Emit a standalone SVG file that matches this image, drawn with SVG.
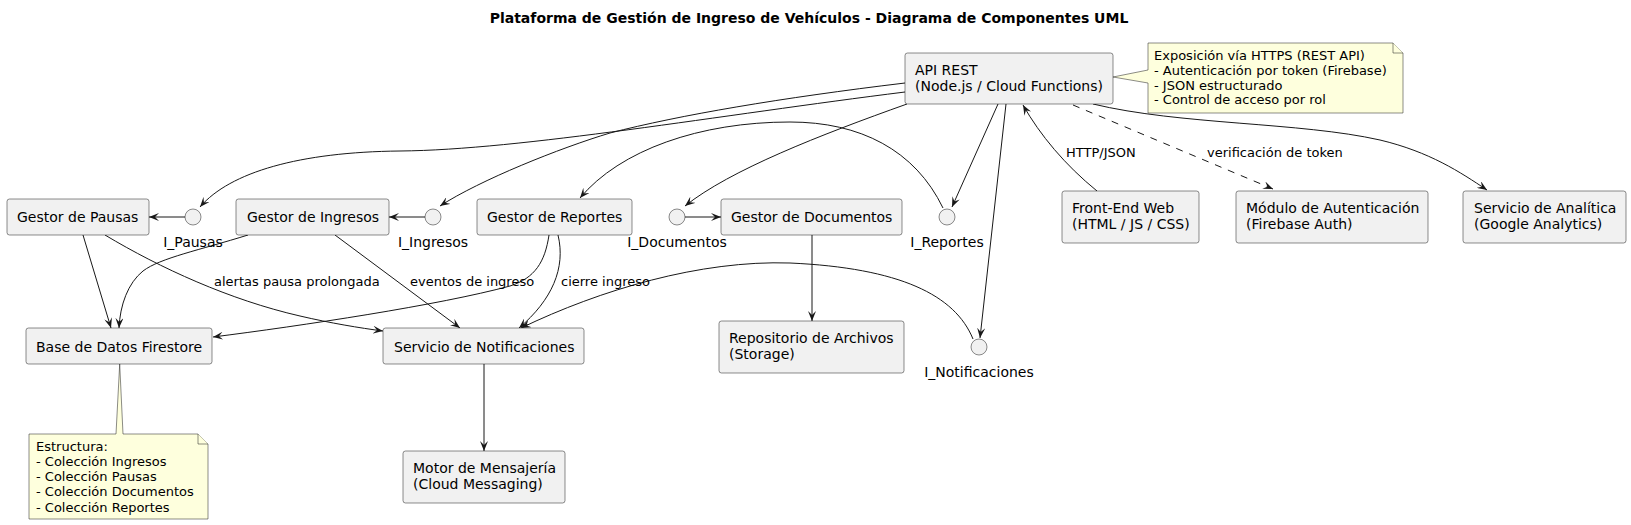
<svg xmlns="http://www.w3.org/2000/svg" width="1631" height="525" viewBox="0 0 1631 525">
<defs>
<style>
.box{fill:#F1F1F1;stroke:#181818;stroke-width:0.5}
.note{fill:#FEFFDD;stroke:#181818;stroke-width:0.5}
.iface{fill:#F1F1F1;stroke:#181818;stroke-width:0.5}
.t{font-family:"DejaVu Sans",sans-serif;font-size:14px;fill:#000}
.s{font-family:"DejaVu Sans",sans-serif;font-size:13px;fill:#000}
.title{font-family:"DejaVu Sans",sans-serif;font-size:14px;font-weight:bold;fill:#000}
.c{fill:none;stroke:#181818;stroke-width:1}
.d{stroke-dasharray:7,7}
</style>
<marker id="ah" viewBox="0 0 10 8" refX="10" refY="4" markerWidth="10" markerHeight="8" markerUnits="userSpaceOnUse" orient="auto">
<path d="M0,0 L10,4 L0,8 L4,4 Z" fill="#181818"/>
</marker>
</defs>
<rect width="1631" height="525" fill="#FFFFFF"/>
<text class="title" x="809" y="23" text-anchor="middle">Plataforma de Gestión de Ingreso de Vehículos - Diagrama de Componentes UML</text>

<g id="connectors">
<path class="c" d="M185,217 L149,217" marker-end="url(#ah)"/>
<path class="c" d="M425,217 L389,217" marker-end="url(#ah)"/>
<path class="c" d="M685,217 L721,217" marker-end="url(#ah)"/>
<path class="c" d="M905,92 C720,115 520,150 400,151 C300,152 230,172 200,207" marker-end="url(#ah)"/>
<path class="c" d="M905,83 C780,98 680,115 610,133 C560,148 480,180 440,206" marker-end="url(#ah)"/>
<path class="c" d="M943,208 C915,150 860,122 790,122 C700,122 620,150 580,198" marker-end="url(#ah)"/>
<path class="c" d="M907,104 C820,135 730,170 685,206" marker-end="url(#ah)"/>
<path class="c" d="M998,104 L952,207" marker-end="url(#ah)"/>
<path class="c" d="M1006,104 L980,338" marker-end="url(#ah)"/>
<path class="c" d="M1097,191 C1065,165 1040,135 1023,105" marker-end="url(#ah)"/>
<path class="c d" d="M1073,105 L1273,189" marker-end="url(#ah)"/>
<path class="c" d="M1093,104 C1180,125 1300,122 1380,140 C1430,152 1460,172 1487,190" marker-end="url(#ah)"/>
<path class="c" d="M83,235 L111,328" marker-end="url(#ah)"/>
<path class="c" d="M248,235 C200,250 160,258 143,271 C128,283 120,305 119,328" marker-end="url(#ah)"/>
<path class="c" d="M105,235 C160,268 230,300 300,316 C330,323 360,328 383,331" marker-end="url(#ah)"/>
<path class="c" d="M335,235 L460,328" marker-end="url(#ah)"/>
<path class="c" d="M549,235 C545,262 535,278 510,286 C440,305 300,326 213,337" marker-end="url(#ah)"/>
<path class="c" d="M558,235 C566,268 552,300 519,328" marker-end="url(#ah)"/>
<path class="c" d="M973,339 C955,295 900,268 790,263 C700,260 600,290 521,328" marker-end="url(#ah)"/>
<path class="c" d="M812,235 L812,321" marker-end="url(#ah)"/>
<path class="c" d="M484,364 L484,451" marker-end="url(#ah)"/>
<text class="s" x="214" y="286">alertas pausa prolongada</text>
<text class="s" x="410" y="286">eventos de ingreso</text>
<text class="s" x="561" y="286">cierre ingreso</text>
<text class="s" x="1066" y="157">HTTP/JSON</text>
<text class="s" x="1207" y="157">verificación de token</text>
</g>

<g id="gestor-pausas"><rect class="box" x="7" y="199" width="142" height="36" rx="2.5"/><text class="t" x="17" y="222">Gestor de Pausas</text></g>
<g id="gestor-ingresos"><rect class="box" x="236" y="199" width="153" height="36" rx="2.5"/><text class="t" x="247" y="222">Gestor de Ingresos</text></g>
<g id="gestor-reportes"><rect class="box" x="477" y="199" width="155" height="36" rx="2.5"/><text class="t" x="487" y="222">Gestor de Reportes</text></g>
<g id="gestor-documentos"><rect class="box" x="721" y="199" width="181" height="36" rx="2.5"/><text class="t" x="731" y="222">Gestor de Documentos</text></g>
<g id="api-rest"><rect class="box" x="905" y="53" width="208" height="51" rx="2.5"/><text class="t" x="915" y="75">API REST</text><text class="t" x="915" y="91.3">(Node.js / Cloud Functions)</text></g>
<g id="front-end"><rect class="box" x="1062" y="191" width="137" height="52" rx="2.5"/><text class="t" x="1072" y="213">Front-End Web</text><text class="t" x="1072" y="229.3">(HTML / JS / CSS)</text></g>
<g id="modulo-auth"><rect class="box" x="1236" y="191" width="192" height="52" rx="2.5"/><text class="t" x="1246" y="213">Módulo de Autenticación</text><text class="t" x="1246" y="229.3">(Firebase Auth)</text></g>
<g id="analitica"><rect class="box" x="1463" y="191" width="163" height="52" rx="2.5"/><text class="t" x="1474" y="213">Servicio de Analítica</text><text class="t" x="1474" y="229.3">(Google Analytics)</text></g>
<g id="firestore"><rect class="box" x="26" y="328" width="186" height="36" rx="2.5"/><text class="t" x="36" y="351.5">Base de Datos Firestore</text></g>
<g id="notificaciones"><rect class="box" x="383" y="328" width="201" height="36" rx="2.5"/><text class="t" x="394" y="351.5">Servicio de Notificaciones</text></g>
<g id="repositorio"><rect class="box" x="719" y="321" width="185" height="52" rx="2.5"/><text class="t" x="729" y="343">Repositorio de Archivos</text><text class="t" x="729" y="359.3">(Storage)</text></g>
<g id="motor"><rect class="box" x="403" y="451" width="162" height="52" rx="2.5"/><text class="t" x="413" y="473">Motor de Mensajería</text><text class="t" x="413" y="489.3">(Cloud Messaging)</text></g>

<g id="i-pausas"><circle class="iface" cx="193" cy="217" r="8"/><text class="t" x="193" y="246.5" text-anchor="middle">I_Pausas</text></g>
<g id="i-ingresos"><circle class="iface" cx="433" cy="217" r="8"/><text class="t" x="433" y="246.5" text-anchor="middle">I_Ingresos</text></g>
<g id="i-documentos"><circle class="iface" cx="677" cy="217" r="8"/><text class="t" x="677" y="246.5" text-anchor="middle">I_Documentos</text></g>
<g id="i-reportes"><circle class="iface" cx="947" cy="217" r="8"/><text class="t" x="947" y="246.5" text-anchor="middle">I_Reportes</text></g>
<g id="i-notificaciones"><circle class="iface" cx="979" cy="347" r="8"/><text class="t" x="979" y="376.5" text-anchor="middle">I_Notificaciones</text></g>

<g id="note-api"><path class="note" d="M1148,43 L1393,43 L1403,53 L1403,113 L1148,113 L1148,83 L1113,77 L1148,70 Z"/><path class="note" d="M1393,43 L1393,53 L1403,53"/>
<text class="s" x="1154" y="59.5">Exposición vía HTTPS (REST API)</text>
<text class="s" x="1154" y="74.5">- Autenticación por token (Firebase)</text>
<text class="s" x="1154" y="89.5">- JSON estructurado</text>
<text class="s" x="1154" y="104">- Control de acceso por rol</text></g>
<g id="note-firestore"><path class="note" d="M29,434 L116,434 L119.7,364 L123,434 L198,434 L208,444 L208,519 L29,519 Z"/><path class="note" d="M198,434 L198,444 L208,444"/>
<text class="s" x="36" y="451">Estructura:</text>
<text class="s" x="36" y="466">- Colección Ingresos</text>
<text class="s" x="36" y="481">- Colección Pausas</text>
<text class="s" x="36" y="496">- Colección Documentos</text>
<text class="s" x="36" y="511.5">- Colección Reportes</text></g>
</svg>
